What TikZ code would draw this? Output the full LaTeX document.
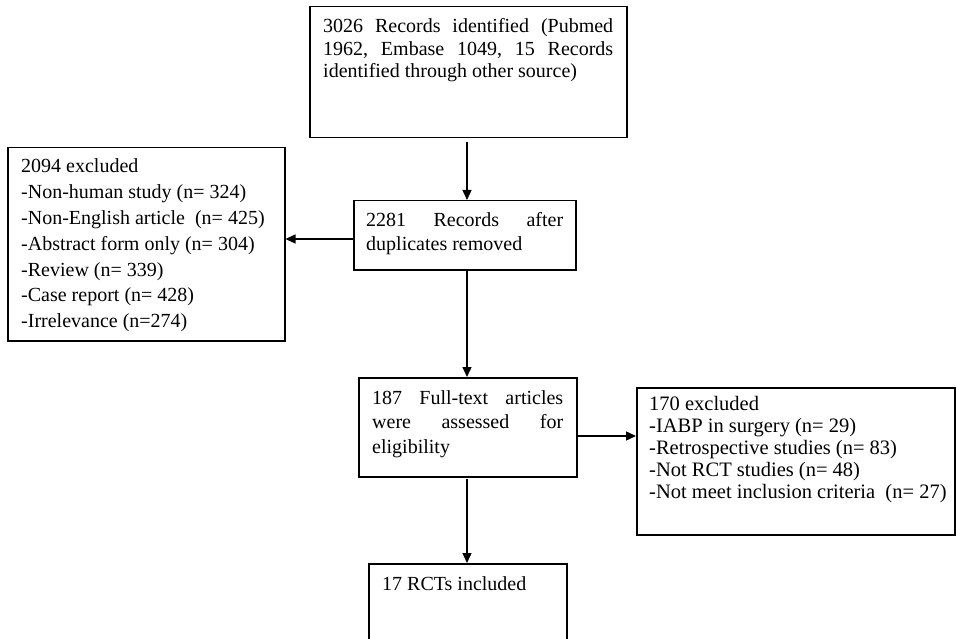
\documentclass[tikz,border=0pt]{standalone}
\usepackage{fontspec}
\setmainfont{Liberation Serif}
\usetikzlibrary{arrows.meta}
\newcommand\mylines[2]{\vtop{\baselineskip=#1\lineskiplimit=-100pt\lineskip=0pt #2}}
\begin{document}
\begin{tikzpicture}[x=1pt,y=-1pt,
  box/.style={draw, line width=1.5pt, rectangle, inner sep=0pt, anchor=north west},
  txt/.style={anchor=base west, inner sep=0pt, font=\fontsize{20}{22.5}\selectfont},
  arr/.style={line width=1.4pt, -{Triangle[length=10pt,width=9pt]}}]
\useasboundingbox (0,0) rectangle (956,639);
\clip (0,0) rectangle (956,639);
% boxes
\node[box, minimum width=317pt, minimum height=131pt] (b1) at (309,6) {};
\node[box, minimum width=277pt, minimum height=193pt] (b2) at (7,147) {};
\node[box, minimum width=222pt, minimum height=69pt] (b3) at (353,200) {};
\node[box, minimum width=218pt, minimum height=99pt] (b4) at (358,377) {};
\node[box, minimum width=318pt, minimum height=147pt] (b5) at (636,387) {};
\node[box, minimum width=198pt, minimum height=100pt] (b6) at (368,563) {};
% texts
\node[txt] (t1) at (323,33) {\mylines{22.5pt}{%
  \hbox to 290pt{3026\hfill Records\hfill identified\hfill (Pubmed}%
  \hbox to 290pt{1962,\hfill Embase\hfill 1049,\hfill 15\hfill Records}%
  \hbox{identified through other source)}}};
\node[txt] (t2) at (21,173) {\mylines{25.8pt}{%
  \hbox{2094 excluded}%
  \hbox{-Non-human study (n= 324)}%
  \hbox{-Non-English article\ \ (n= 425)}%
  \hbox{-Abstract form only (n= 304)}%
  \hbox{-Review (n= 339)}%
  \hbox{-Case report (n= 428)}%
  \hbox{-Irrelevance (n=274)}}};
\node[txt] (t3) at (366,227) {\mylines{24pt}{%
  \hbox to 197pt{2281\hfill Records\hfill after}%
  \hbox{duplicates removed}}};
\node[txt] (t4) at (372,404) {\mylines{24.5pt}{%
  \hbox to 191pt{187\hfill Full-text\hfill articles}%
  \hbox to 191pt{were\hfill assessed\hfill for}%
  \hbox{eligibility}}};
\node[txt, font=\fontsize{20.5}{22}\selectfont] (t5) at (649,410) {\mylines{22pt}{%
  \hbox{170 excluded}%
  \hbox{-IABP in surgery (n= 29)}%
  \hbox{-Retrospective studies (n= 83)}%
  \hbox{-Not RCT studies (n= 48)}%
  \hbox{-Not meet inclusion criteria\ \ (n= 27)}}};
\node[txt] (t6) at (382,590) {17 RCTs included};
% connectors
\coordinate (a1) at (467,142);
\coordinate (a2) at (353,239);
\coordinate (a4) at (576,436);
\coordinate (a5) at (467,479);
\draw[arr] (a1) -- (b3.north -| a1);
\draw[arr] (a2) -- (b2.east |- a2);
\draw[arr] (b3.south -| a1) -- (b4.north -| a1);
\draw[arr] (a4) -- (b5.west |- a4);
\draw[arr] (a5) -- (b6.north -| a5);
\end{tikzpicture}
\end{document}
